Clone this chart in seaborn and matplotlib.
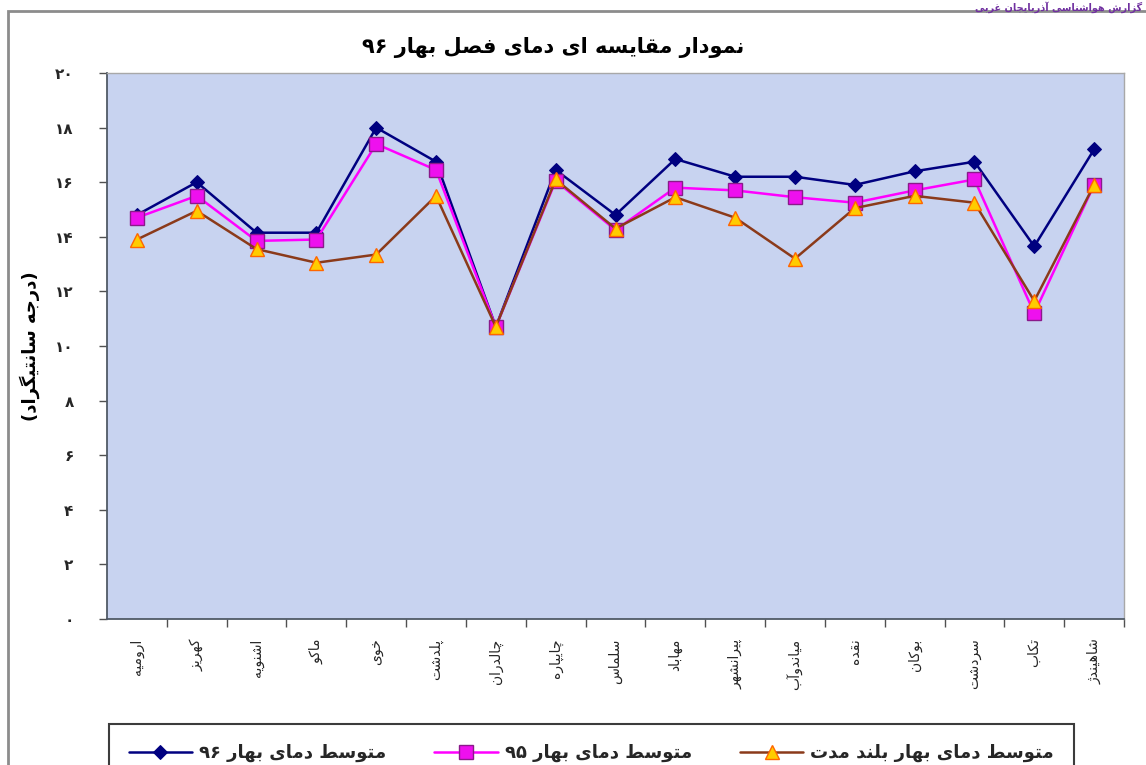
import re
import numpy as np
import pandas as pd
import matplotlib
matplotlib.use("Agg")
import matplotlib.pyplot as plt
from matplotlib.patches import Rectangle
import seaborn as sns

# ---------------- data ----------------
stations = ["ارومیه", "کهریز", "اشنویه", "ماکو", "خوی", "پلدشت", "چالدران",
            "چایپاره", "سلماس", "مهاباد", "پیرانشهر", "میاندوآب", "نقده",
            "بوکان", "سردشت", "تکاب", "شاهیندژ"]
temp_96 = [14.8, 16.0, 14.15, 14.15, 18.0, 16.75, 10.7, 16.45, 14.8, 16.85,
           16.2, 16.2, 15.9, 16.4, 16.75, 13.65, 17.2]
temp_95 = [14.7, 15.5, 13.85, 13.9, 17.4, 16.45, 10.7, 16.05, 14.25, 15.8,
           15.7, 15.45, 15.25, 15.7, 16.1, 11.2, 15.9]
temp_long = [13.9, 14.95, 13.55, 13.05, 13.35, 15.5, 10.7, 16.1, 14.3, 15.45,
             14.7, 13.2, 15.05, 15.5, 15.25, 11.65, 15.9]
series_names = ["متوسط دمای بهار ۹۶", "متوسط دمای بهار ۹۵", "متوسط دمای بهار بلند مدت"]
y_ticks = [0, 2, 4, 6, 8, 10, 12, 14, 16, 18, 20]
title = "نمودار مقایسه ای دمای فصل بهار ۹۶"
y_label = "(درجه سانتیگراد)"
source_note = "گزارش هواشناسی آذربایجان غربی"

# ---------------- minimal Arabic/Persian shaping ----------------
def _dual(s):
    return tuple(s + i for i in range(4))

def _right(s):
    return (s, s + 1)

FORMS = {
    "آ": _right(0xFE81), "أ": _right(0xFE83), "ؤ": _right(0xFE85), "إ": _right(0xFE87),
    "ئ": _dual(0xFE89), "ا": _right(0xFE8D), "ب": _dual(0xFE8F), "ة": _right(0xFE93),
    "ت": _dual(0xFE95), "ث": _dual(0xFE99), "ج": _dual(0xFE9D), "ح": _dual(0xFEA1),
    "خ": _dual(0xFEA5), "د": _right(0xFEA9), "ذ": _right(0xFEAB), "ر": _right(0xFEAD),
    "ز": _right(0xFEAF), "س": _dual(0xFEB1), "ش": _dual(0xFEB5), "ص": _dual(0xFEB9),
    "ض": _dual(0xFEBD), "ط": _dual(0xFEC1), "ظ": _dual(0xFEC5), "ع": _dual(0xFEC9),
    "غ": _dual(0xFECD), "ف": _dual(0xFED1), "ق": _dual(0xFED5), "ك": _dual(0xFED9),
    "ل": _dual(0xFEDD), "م": _dual(0xFEE1), "ن": _dual(0xFEE5), "ه": _dual(0xFEE9),
    "و": _right(0xFEED), "ى": _right(0xFEEF), "ي": _dual(0xFEF1),
    "پ": _dual(0xFB56), "چ": _dual(0xFB7A), "ژ": _right(0xFB8A), "ک": _dual(0xFB8E),
    "گ": _dual(0xFB92), "ی": _dual(0xFBFC),
}

def shape(text):
    out = []
    n = len(text)
    for i, c in enumerate(text):
        if c not in FORMS:
            out.append(c)
            continue
        f = FORMS[c]
        prev = text[i - 1] if i > 0 else None
        nxt = text[i + 1] if i + 1 < n else None
        jp = prev in FORMS and len(FORMS[prev]) == 4
        jn = nxt in FORMS and len(f) == 4
        if jp and jn:
            code = f[3]
        elif jp:
            code = f[1]
        elif jn:
            code = f[2]
        else:
            code = f[0]
        out.append(chr(code))
    return "".join(out)

def rtl(text):
    v = shape(text)[::-1]
    v = re.sub(r"[0-9\u06F0-\u06F9]+", lambda m: m.group(0)[::-1], v)
    return v.translate(str.maketrans("()", ")("))

def fa_digits(v):
    return str(v).translate(str.maketrans("0123456789", "۰۱۲۳۴۵۶۷۸۹"))

# ---------------- figure ----------------
sns.set_theme(style="white")
plt.rcParams["font.family"] = ["DejaVu Sans"]

W, H = 1146, 765
fig = plt.figure(figsize=(W / 100, H / 100), dpi=100)
fig.patch.set_facecolor("white")

ax_l, ax_r, ax_t, ax_b = 107, 1124, 73, 619
ax = fig.add_axes([ax_l / W, 1 - ax_b / H, (ax_r - ax_l) / W, (ax_b - ax_t) / H])
ax.set_facecolor("#c8d3f0")

labels = [rtl(s) for s in stations]
df = pd.DataFrame({"station": labels, "t96": temp_96, "t95": temp_95, "tlong": temp_long})

sns.lineplot(data=df, x="station", y="t96", ax=ax, sort=False, color="#000080",
             lw=1.8, marker="D", markersize=7, markerfacecolor="#000080",
             markeredgecolor="#000080", label=rtl(series_names[0]))
sns.lineplot(data=df, x="station", y="t95", ax=ax, sort=False, color="#ff00ff",
             lw=1.8, marker="s", markersize=10, markerfacecolor="#ee10ee",
             markeredgecolor="#8a1a8a", markeredgewidth=1.0, label=rtl(series_names[1]))
sns.lineplot(data=df, x="station", y="tlong", ax=ax, sort=False, color="#8b3a1a",
             lw=1.8, marker="^", markersize=10, markerfacecolor="#ffcc00",
             markeredgecolor="#ff6600", markeredgewidth=1.0, label=rtl(series_names[2]))

handles, leg_labels = ax.get_legend_handles_labels()
if ax.get_legend() is not None:
    ax.get_legend().remove()

ax.set_xlim(-0.5, len(stations) - 0.5)
ax.set_ylim(0, 20)
ax.set_xlabel("")
ax.set_ylabel("")
ax.set_yticks(y_ticks)
ax.set_yticklabels([fa_digits(v) for v in y_ticks], fontsize=11, fontweight="bold")
ax.set_xticks(np.arange(len(stations)) + 0.5, minor=True)
ax.tick_params(axis="x", which="major", length=0, pad=14, labelsize=10, rotation=90)
ax.tick_params(axis="x", which="minor", length=6, width=1, color="#505050", direction="out", bottom=True)
ax.tick_params(axis="y", which="major", length=6, width=1, color="#505050", direction="out", left=True, pad=18)
for lab in ax.get_xticklabels():
    lab.set_va("top")
    lab.set_ha("center")

for side in ["left", "bottom"]:
    ax.spines[side].set_color("#505a66")
    ax.spines[side].set_linewidth(1.3)
for side in ["top", "right"]:
    ax.spines[side].set_color("#a8a8a8")
    ax.spines[side].set_linewidth(1.0)

# title, y label, source note
fig.text(553 / W, 1 - 47 / H, rtl(title), ha="center", va="center",
         fontsize=15, fontweight="bold", color="black")
fig.text(30 / W, 1 - 346 / H, rtl(y_label), ha="center", va="center",
         rotation=90, fontsize=13, fontweight="bold", color="black")
fig.text(1142 / W, 1 - 1 / H, rtl(source_note), ha="right", va="top",
         fontsize=7, fontweight="bold", color="#7030a0")

# outer chart frame
fig.patches.append(Rectangle((8 / W, -0.02), 1.05, (H - 11) / H + 0.02,
                             transform=fig.transFigure, fill=False,
                             edgecolor="#8c8c8c", lw=2.0, clip_on=False))

# legend
leg = fig.legend(handles, leg_labels, loc="upper left",
                 bbox_to_anchor=(100 / W, 1 - 715 / H, (1083 - 100) / W, 0.0),
                 mode="expand", ncol=3, frameon=True, fancybox=False,
                 edgecolor="#3c3c3c", facecolor="white", framealpha=1.0,
                 borderpad=1.1, handlelength=3.5, handletextpad=0.4,
                 prop={"weight": "bold", "size": 13})
leg.get_frame().set_linewidth(1.5)

fig.savefig("out.png", dpi=100)
